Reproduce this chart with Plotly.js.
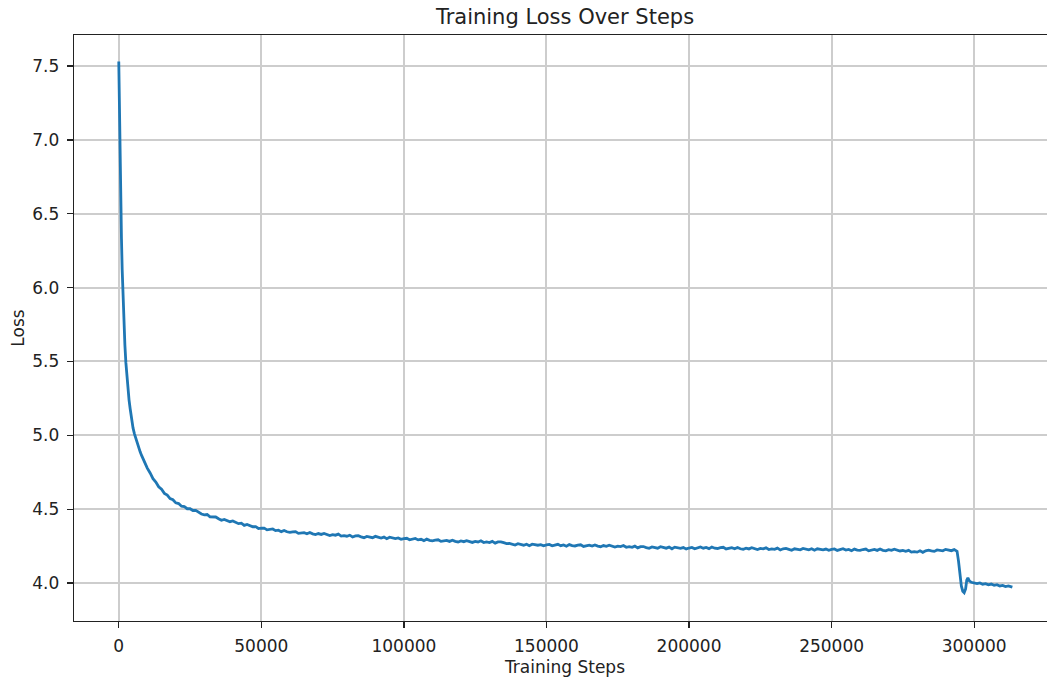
<!DOCTYPE html>
<html>
<head>
<meta charset="utf-8">
<script src="https://cdn.plot.ly/plotly-3.0.1.min.js"></script>
<style>
html, body { margin: 0; padding: 0; overflow: hidden; background: #fff; }
#chart { width: 1062px; height: 678px; }
</style>
</head>
<body>
<div id="chart"></div>
<script>
const steps = [
  0, 150, 300, 500, 700, 950, 1200, 1500, 1800, 2150, 2500, 2850, 3200, 3600, 4000, 4500,
  5000, 5500, 6000, 6500, 7000, 7500, 8000, 8500, 9000, 9500, 10000,
  11000, 12000, 13000, 14000, 15000, 16000, 17000, 18000, 19000, 20000,
  21000, 22000, 23000, 24000,
  25000, 26000, 27000, 28000, 29000,
  30000, 31000, 32000, 33000, 34000, 35000, 36000, 37000, 38000, 39000,
  40000, 41000, 42000, 43000, 44000, 45000, 46000, 47000, 48000, 49000,
  50000, 51000, 52000, 53000, 54000, 55000, 56000, 57000, 58000, 59000,
  60000, 61000, 62000, 63000, 64000, 65000, 66000, 67000, 68000, 69000,
  70000, 71000, 72000, 73000, 74000, 75000, 76000, 77000, 78000, 79000,
  80000, 81000, 82000, 83000, 84000, 85000, 86000, 87000, 88000, 89000,
  90000, 91000, 92000, 93000, 94000, 95000, 96000, 97000, 98000, 99000,
  100000, 101000, 102000, 103000, 104000, 105000, 106000, 107000, 108000, 109000,
  110000, 111000, 112000, 113000, 114000, 115000, 116000, 117000, 118000, 119000,
  120000, 121000, 122000, 123000, 124000, 125000, 126000, 127000, 128000, 129000,
  130000, 131000, 132000, 133000, 134000, 135000, 136000, 137000, 138000, 139000,
  140000, 141000, 142000, 143000, 144000, 145000, 146000, 147000, 148000, 149000,
  150000, 151000, 152000, 153000, 154000, 155000, 156000, 157000, 158000, 159000,
  160000, 161000, 162000, 163000, 164000, 165000, 166000, 167000, 168000, 169000,
  170000, 171000, 172000, 173000, 174000, 175000, 176000, 177000, 178000, 179000,
  180000, 181000, 182000, 183000, 184000, 185000, 186000, 187000, 188000, 189000,
  190000, 191000, 192000, 193000, 194000, 195000, 196000, 197000, 198000, 199000,
  200000, 201000, 202000, 203000, 204000, 205000, 206000, 207000, 208000, 209000,
  210000, 211000, 212000, 213000, 214000, 215000, 216000, 217000, 218000, 219000,
  220000, 221000, 222000, 223000, 224000, 225000, 226000, 227000, 228000, 229000,
  230000, 231000, 232000, 233000, 234000, 235000, 236000, 237000, 238000, 239000,
  240000, 241000, 242000, 243000, 244000, 245000, 246000, 247000, 248000, 249000,
  250000, 251000, 252000, 253000, 254000, 255000, 256000, 257000, 258000, 259000,
  260000, 261000, 262000, 263000, 264000, 265000, 266000, 267000, 268000, 269000,
  270000, 271000, 272000, 273000, 274000, 275000, 276000, 277000, 278000, 279000,
  280000, 281000, 282000, 283000, 284000, 285000, 286000, 287000, 288000, 289000,
  290000, 291000, 292000, 293000, 293500,
  294000, 294500, 295000, 295500, 296000, 296500, 297000, 297400, 297800, 298300, 299000,
  300000, 301000, 302000, 303000, 304000, 305000, 306000, 307000, 308000, 309000,
  310000, 311000, 312000, 313400
];

const loss = [
  7.53, 7.30, 7.05, 6.80, 6.58, 6.33, 6.12, 5.93, 5.76, 5.61, 5.49, 5.39, 5.31, 5.24, 5.18, 5.11,
  5.05, 5.01, 4.975, 4.943, 4.915, 4.888, 4.864, 4.840, 4.818, 4.797, 4.778,
  4.745, 4.707, 4.684, 4.652, 4.635, 4.607, 4.595, 4.572, 4.564, 4.543,
  4.538, 4.520, 4.517, 4.503,
  4.503, 4.491, 4.492, 4.480, 4.467,
  4.462, 4.464, 4.448, 4.450, 4.447, 4.435, 4.425, 4.431, 4.424, 4.415,
  4.420, 4.409, 4.402, 4.405, 4.390, 4.397, 4.388, 4.381, 4.382, 4.369,
  4.371, 4.372, 4.360, 4.362, 4.366, 4.355, 4.358, 4.348, 4.356, 4.347,
  4.343, 4.347, 4.348, 4.336, 4.341, 4.341, 4.334, 4.342, 4.333, 4.328,
  4.335, 4.329, 4.336, 4.329, 4.322, 4.328, 4.324, 4.331, 4.318, 4.321,
  4.317, 4.324, 4.312, 4.319, 4.320, 4.313, 4.307, 4.316, 4.313, 4.307,
  4.316, 4.308, 4.305, 4.311, 4.300, 4.310, 4.304, 4.301, 4.305, 4.296,
  4.301, 4.303, 4.293, 4.296, 4.302, 4.292, 4.296, 4.287, 4.297, 4.289,
  4.286, 4.291, 4.293, 4.282, 4.288, 4.289, 4.282, 4.290, 4.282, 4.278,
  4.285, 4.280, 4.287, 4.282, 4.275, 4.282, 4.278, 4.286, 4.274, 4.278,
  4.274, 4.282, 4.270, 4.278, 4.279, 4.273, 4.267, 4.269, 4.263, 4.257,
  4.266, 4.259, 4.256, 4.263, 4.253, 4.263, 4.258, 4.256, 4.260, 4.252,
  4.258, 4.261, 4.252, 4.255, 4.262, 4.253, 4.258, 4.249, 4.260, 4.253,
  4.251, 4.257, 4.259, 4.248, 4.254, 4.256, 4.250, 4.258, 4.250, 4.246,
  4.254, 4.249, 4.256, 4.251, 4.244, 4.250, 4.247, 4.254, 4.242, 4.246,
  4.242, 4.250, 4.238, 4.246, 4.247, 4.240, 4.235, 4.244, 4.242, 4.236,
  4.246, 4.239, 4.236, 4.243, 4.232, 4.243, 4.237, 4.235, 4.240, 4.231,
  4.237, 4.241, 4.232, 4.237, 4.244, 4.236, 4.241, 4.233, 4.244, 4.236,
  4.234, 4.240, 4.242, 4.231, 4.237, 4.239, 4.232, 4.241, 4.232, 4.229,
  4.236, 4.231, 4.239, 4.233, 4.227, 4.234, 4.231, 4.238, 4.227, 4.231,
  4.228, 4.236, 4.224, 4.232, 4.234, 4.228, 4.222, 4.232, 4.230, 4.225,
  4.234, 4.227, 4.225, 4.232, 4.222, 4.232, 4.227, 4.225, 4.230, 4.222,
  4.228, 4.231, 4.221, 4.225, 4.232, 4.223, 4.228, 4.219, 4.230, 4.223,
  4.221, 4.227, 4.230, 4.218, 4.225, 4.227, 4.221, 4.230, 4.221, 4.218,
  4.226, 4.221, 4.229, 4.223, 4.217, 4.221, 4.215, 4.221, 4.209, 4.212,
  4.209, 4.218, 4.208, 4.218, 4.222, 4.217, 4.214, 4.224, 4.223, 4.218,
  4.228, 4.221, 4.219, 4.226, 4.222,
  4.215, 4.150, 4.050, 3.980, 3.945, 3.935, 3.960, 4.020, 4.035, 4.015, 4.005,
  4.002, 3.996, 4.001, 3.992, 3.996, 3.988, 3.993, 3.985, 3.989, 3.980,
  3.984, 3.976, 3.980, 3.972
];

const xTickVals = [0, 50000, 100000, 150000, 200000, 250000, 300000];
const xTickLabels = ['0', '50000', '100000', '150000', '200000', '250000', '300000'];
const yTickVals = [4.0, 4.5, 5.0, 5.5, 6.0, 6.5, 7.0, 7.5];
const yTickLabels = ['4.0', '4.5', '5.0', '5.5', '6.0', '6.5', '7.0', '7.5'];

const chartTitle = 'Training Loss Over Steps';
const xTitle = 'Training Steps';
const yTitle = 'Loss';

const fontFamily = 'DejaVu Sans, Liberation Sans, sans-serif';

const trace = {
  x: steps,
  y: loss,
  type: 'scatter',
  mode: 'lines',
  line: { color: '#1f77b4', width: 2.8 },
  hoverinfo: 'x+y'
};

const axisCommon = {
  showline: true,
  linecolor: '#222',
  linewidth: 1.3,
  mirror: true,
  ticks: 'outside',
  ticklen: 6,
  tickwidth: 1.3,
  tickcolor: '#222',
  showgrid: true,
  gridcolor: '#cdcdcd',
  gridwidth: 2,
  zeroline: false,
  tickfont: { family: fontFamily, size: 17, color: '#222' }
};

const layout = {
  width: 1062,
  height: 678,
  margin: { l: 74, r: 6, t: 35, b: 57 },
  paper_bgcolor: '#ffffff',
  plot_bgcolor: '#ffffff',
  showlegend: false,
  title: {
    text: chartTitle,
    font: { family: fontFamily, size: 21, color: '#222' },
    x: 0.5, xref: 'paper', xanchor: 'center',
    y: 1 - 17 / 678, yref: 'container', yanchor: 'middle'
  },
  xaxis: Object.assign({}, axisCommon, {
    range: [-15700, 328700],
    tickmode: 'array',
    tickvals: xTickVals,
    ticktext: xTickLabels,
    ticklabelstandoff: 3,
    title: { text: xTitle, font: { family: fontFamily, size: 17, color: '#222' }, standoff: 6 }
  }),
  yaxis: Object.assign({}, axisCommon, {
    range: [3.743, 7.71],
    tickmode: 'array',
    tickvals: yTickVals,
    ticktext: yTickLabels,
    ticklabelstandoff: 4,
    title: { text: yTitle, font: { family: fontFamily, size: 17, color: '#222' }, standoff: 3 }
  })
};

Plotly.newPlot('chart', [trace], layout, { displayModeBar: false, staticPlot: true });
</script>
</body>
</html>
